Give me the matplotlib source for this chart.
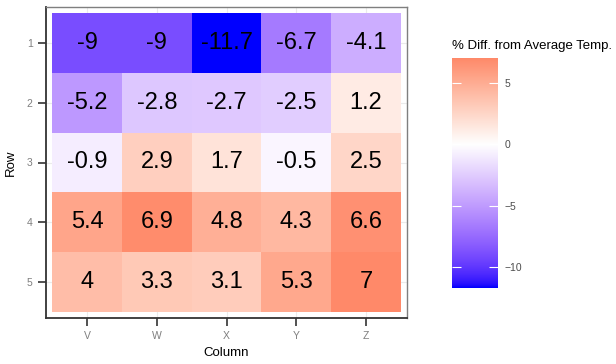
import numpy as np
import matplotlib
matplotlib.use("Agg")
import matplotlib.pyplot as plt
from matplotlib.colors import ListedColormap, Normalize

plt.rcParams['font.family'] = ['Liberation Sans', 'DejaVu Sans']

# data
columns = ["V", "W", "X", "Y", "Z"]
rows = ["1", "2", "3", "4", "5"]
row1 = [-9, -9, -11.7, -6.7, -4.1]
row2 = [-5.2, -2.8, -2.7, -2.5, 1.2]
row3 = [-0.9, 2.9, 1.7, -0.5, 2.5]
row4 = [5.4, 6.9, 4.8, 4.3, 6.6]
row5 = [4, 3.3, 3.1, 5.3, 7]
legend_title = "% Diff. from Average Temp."
cbar_ticks = [5, 0, -5, -10]

vals = np.array([row1, row2, row3, row4, row5])


# gradient2-like colour ramp (blue - white - red), interpolated in CIELAB
def to_lab(rgb):
    c = np.asarray(rgb, float)
    lin = np.where(c <= 0.04045, c / 12.92, ((c + 0.055) / 1.055) ** 2.4)
    M = np.array([[0.4124, 0.3576, 0.1805],
                  [0.2126, 0.7152, 0.0722],
                  [0.0193, 0.1192, 0.9505]])
    xyz = lin @ M.T / np.array([0.95047, 1.0, 1.08883])
    f = np.where(xyz > 0.008856, np.cbrt(xyz), 7.787 * xyz + 16 / 116)
    L = 116 * f[..., 1] - 16
    a = 500 * (f[..., 0] - f[..., 1])
    b = 200 * (f[..., 1] - f[..., 2])
    return np.stack([L, a, b], -1)


def from_lab(lab):
    L, a, b = lab[..., 0], lab[..., 1], lab[..., 2]
    fy = (L + 16) / 116
    fx = fy + a / 500
    fz = fy - b / 200
    f = np.stack([fx, fy, fz], -1)
    xyz = np.where(f ** 3 > 0.008856, f ** 3, (f - 16 / 116) / 7.787)
    xyz = xyz * np.array([0.95047, 1.0, 1.08883])
    Minv = np.array([[3.2406, -1.5372, -0.4986],
                     [-0.9689, 1.8758, 0.0415],
                     [0.0557, -0.2040, 1.0570]])
    lin = xyz @ Minv.T
    lin = np.clip(lin, 0, 1)
    c = np.where(lin <= 0.0031308, 12.92 * lin, 1.055 * lin ** (1 / 2.4) - 0.055)
    return np.clip(c, 0, 1)


anchors = to_lab(np.array([[0, 0, 1], [1, 1, 1], [1, 0, 0]]))
t = np.linspace(0, 1, 512)
lab = np.stack([np.interp(t, [0, 0.5, 1], anchors[:, k]) for k in range(3)], -1)
cmap = ListedColormap(from_lab(lab))
lim = np.abs(vals).max()
norm = Normalize(vmin=-lim, vmax=lim)

fig = plt.figure(figsize=(6.16, 3.64), dpi=100)
ax = fig.add_axes([46 / 616, 1 - 318 / 364, 361 / 616, 311 / 364])

ax.set_axisbelow(True)
ax.grid(True, color="#ebebeb", linewidth=0.8)
ax.pcolormesh(np.arange(len(columns) + 1) - 0.5, np.arange(len(rows) + 1) - 0.5,
              vals, cmap=cmap, norm=norm, zorder=2)
for i in range(len(rows)):
    for j in range(len(columns)):
        ax.text(j, i, f"{vals[i, j]:g}", ha="center", va="center",
                fontsize=17, color="black", zorder=3)

padx, pady = 0.09, 0.1
ax.set_xlim(-0.5 - padx, len(columns) - 0.5 + padx)
ax.set_ylim(len(rows) - 0.5 + pady, -0.5 - pady)
ax.set_xticks(range(len(columns)))
ax.set_xticklabels(columns)
ax.set_yticks(range(len(rows)))
ax.set_yticklabels(rows)
ax.tick_params(length=5.5, width=1.2, color="#333333", labelsize=7.5,
               labelcolor="#7f7f7f", pad=4)
ax.set_xlabel("Column", fontsize=9.5, labelpad=4)
ax.set_ylabel("Row", fontsize=9.5, labelpad=7)
for s in ["left", "bottom"]:
    ax.spines[s].set_color("#333333")
    ax.spines[s].set_linewidth(1.3)
for s in ["top", "right"]:
    ax.spines[s].set_color("#7f7f7f")
    ax.spines[s].set_linewidth(1.0)

# colour bar
cax = fig.add_axes([452 / 616, 1 - 288 / 364, 46 / 616, 230 / 364])
vmin, vmax = vals.min(), vals.max()
grad = np.linspace(vmin, vmax, 300)[:, None]
cax.imshow(grad, extent=[0, 1, vmin, vmax], origin="lower", aspect="auto",
           cmap=cmap, norm=norm)
cax.set_xlim(0, 1)
cax.set_ylim(vmin, vmax)
cax.set_xticks([])
cax.set_yticks(cbar_ticks)
cax.tick_params(axis="y", direction="in", left=True, right=True,
                labelleft=False, labelright=True, length=6.5, width=0.8,
                color="white", labelsize=7.5, labelcolor="#4d4d4d", pad=5)
for s in cax.spines.values():
    s.set_visible(False)
fig.text(452 / 616, 1 - 46 / 364, legend_title, fontsize=9.5, ha="left", va="center")

fig.savefig("out.png", dpi=100)
